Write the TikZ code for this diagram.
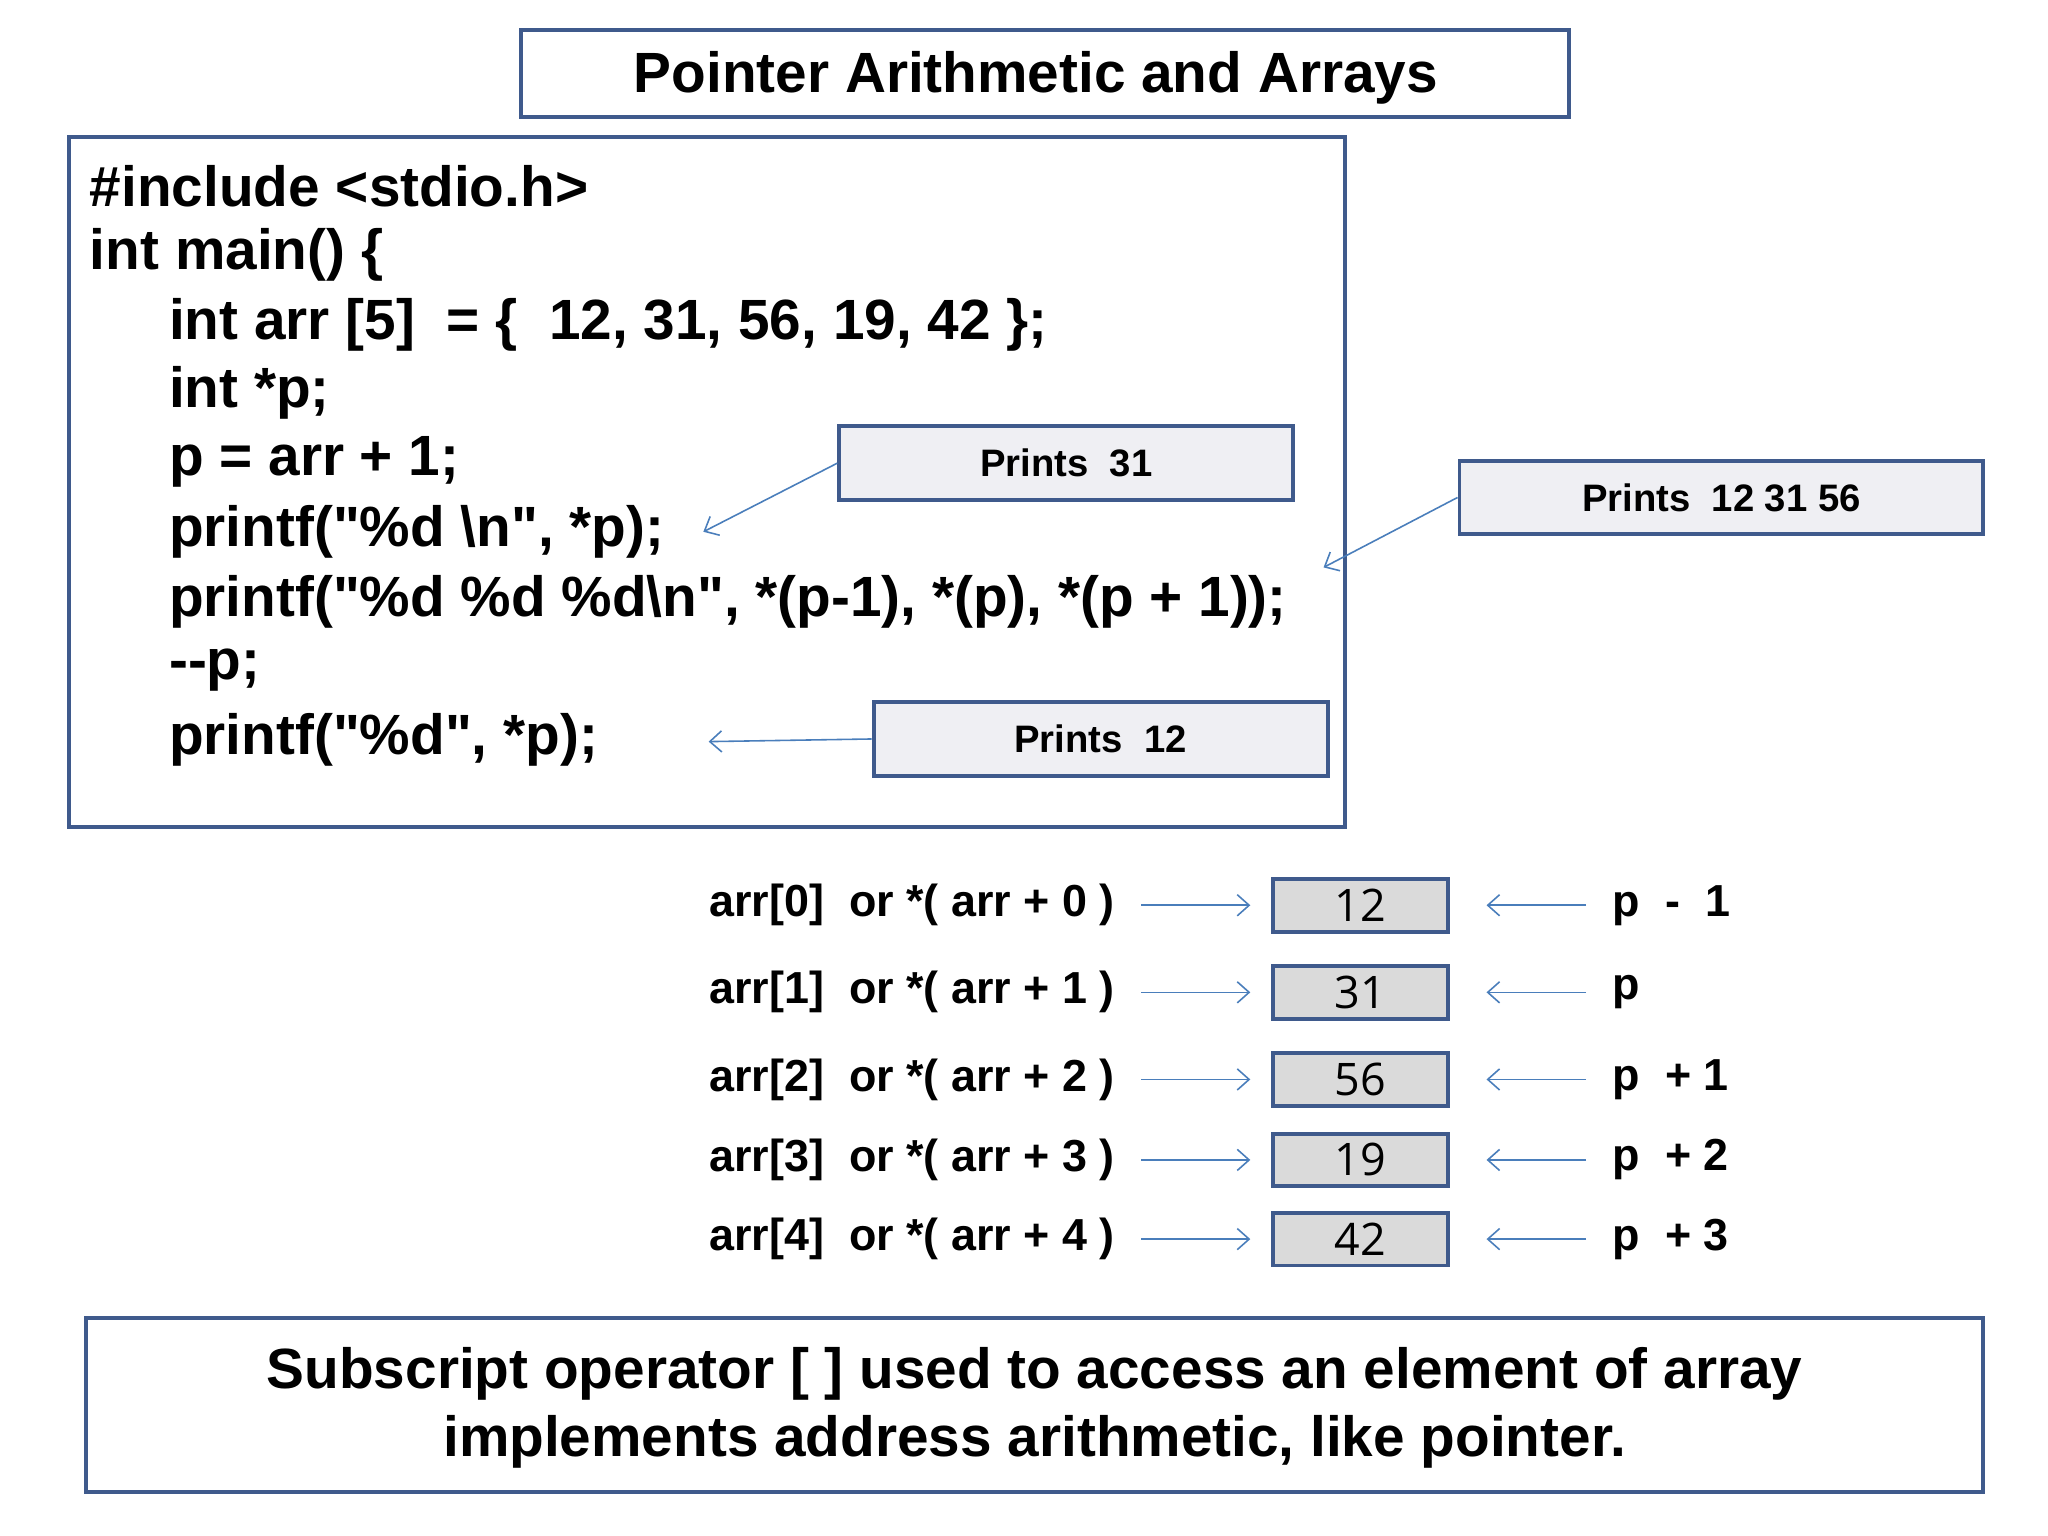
\documentclass[tikz,border=0pt]{standalone}
\usepackage{fontspec}
\setmainfont{Liberation Sans}[Ligatures=TeXOff]
\newfontfamily\cellfont{Open Sans}
\usetikzlibrary{arrows.meta}
\definecolor{bord}{HTML}{3F5A8C}
\definecolor{arr}{HTML}{4A7EBB}
\definecolor{callfill}{HTML}{EFEFF3}
\definecolor{cellfill}{HTML}{DADADA}
\tikzset{
 box/.style={draw=bord,line width=3pt},
 code/.style={anchor=west,inner sep=0pt,font=\fontsize{43}{43}\selectfont\bfseries},
 callout/.style={draw=bord,line width=3pt,fill=callfill,font=\fontsize{29}{29}\selectfont\bfseries},
 conn/.style={draw=arr,line width=1.2pt,-{Straight Barb[length=9pt,width=16pt]}},
 lab/.style={inner sep=0pt,font=\fontsize{34}{34}\selectfont\bfseries},
 cell/.style={draw=bord,line width=3pt,fill=cellfill,minimum width=132pt,minimum height=40pt,inner sep=0pt,font=\fontsize{34}{34}\selectfont\cellfont},
}
\begin{document}
\begin{tikzpicture}[x=1pt,y=-1pt]
\useasboundingbox (0,0) rectangle (1552,1164);
\draw[box] (395,23) rectangle (1189,89);
\node[font=\fontsize{43}{43}\selectfont\bfseries] (title) at (785,59) {Pointer Arithmetic and Arrays};
\draw[box] (52,104) rectangle (1019,627);
\node[code] (l1) at (68,141) {\#include <stdio.h>};
\node[code] (l2) at (68,193) {int main() \{};
\node[code] (l3) at (128,246) {int arr [5] \ = \{ \ 12, 31, 56, 19, 42 \};};
\node[code] (l4) at (128,298) {int *p;};
\node[code] (l5) at (128,350) {p = arr + 1;};
\node[code] (l6) at (128,403) {printf("\%d \textbackslash n", *p);};
\node[code] (l7) at (128,456) {printf("\%d \%d \%d\textbackslash n", *(p-1), *(p), *(p + 1));};
\node[code] (l8) at (128,508) {--p;};
\node[code] (l9) at (128,561) {printf("\%d", *p);};
\node[callout,minimum width=344pt,minimum height=56pt] (c1) at (808,351) {Prints \ 31};
\node[callout,minimum width=397pt,minimum height=56pt] (c2) at (1304.5,377) {Prints \ 12 31 56};
\node[callout,minimum width=344pt,minimum height=56pt] (c3) at (834,560) {Prints \ 12};
\coordinate (t1) at (533,403);
\coordinate (t2) at (1003,430);
\coordinate (t3) at (537,562);
\draw[conn] (c1.west) -- (t1);
\draw[conn] (c2.west) -- (t2);
\draw[conn] (c3.west) -- (t3);
\foreach \i/\y/\v/\p in {0/686/12/{p \ - \ 1},1/752/31/p,2/818/56/{p \ + 1},3/879/19/{p \ + 2},4/939/42/{p \ + 3}}{
  \node[lab,anchor=east] (a\i) at (845,\y) {arr[\i] \ or *( arr + \i\ )};
  \node[cell] (v\i) at (1031,\y) {\v};
  \node[lab,anchor=west] (p\i) at (1222,\y) {\p};
  \draw[conn] ([xshift=20pt]a\i.east) -- ([xshift=-16pt]v\i.west);
  \draw[conn] ([xshift=-20pt]p\i.west) -- ([xshift=28pt]v\i.east);
}
\draw[box] (65,999) rectangle (1503,1131);
\node[font=\fontsize{43}{52}\selectfont\bfseries,align=center] (bot) at (784,1067) {Subscript operator [ ] used to access an element of array\\implements address arithmetic, like pointer.};
\end{tikzpicture}
\end{document}
